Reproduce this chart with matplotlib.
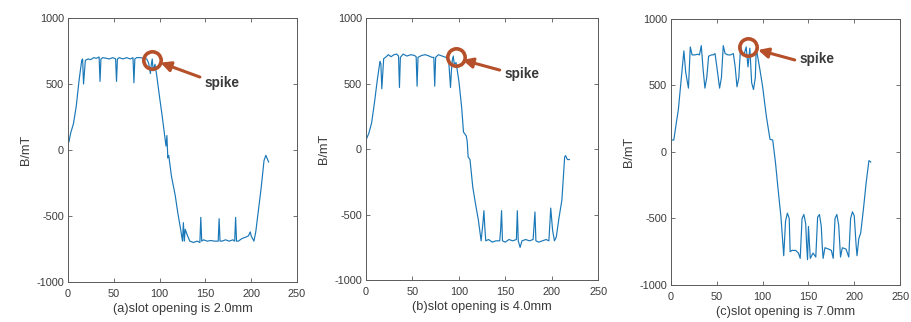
import numpy as np
import matplotlib
matplotlib.use("Agg")
import matplotlib.pyplot as plt

plt.rcParams['font.family'] = ['Liberation Sans', 'DejaVu Sans']
plt.rcParams['axes.unicode_minus'] = False

# --- data ---
a_x = [0, 1, 3, 6, 9, 12, 15, 16, 17, 19, 22, 25, 28, 31, 34, 35, 36, 38, 42, 45, 49, 52, 53, 54, 56,
       60, 64, 68, 71, 72, 73, 75, 79, 83, 86, 88, 89, 90, 91, 92, 93, 95, 97, 100, 103, 105, 107, 108,
       109, 110, 113, 117, 120, 123, 125, 126, 127, 128, 130, 133, 137, 141, 144, 145, 146, 148, 152,
       156, 160, 164, 165, 166, 168, 172, 176, 180, 182, 183, 184, 186, 190, 194, 197, 199, 200, 203,
       205, 208, 211, 214, 216, 219]
a_y = [100, 60, 130, 200, 330, 520, 680, 690, 500, 680, 690, 685, 700, 695, 705, 520, 690, 700, 695,
       690, 700, 690, 520, 690, 700, 690, 700, 690, 700, 510, 690, 700, 700, 695, 690, 660, 620, 580,
       650, 690, 600, 650, 560, 400, 250, 140, 30, 110, -60, -40, -200, -340, -480, -600, -690, -550,
       -690, -600, -640, -690, -700, -690, -700, -510, -690, -680, -690, -685, -690, -690, -520, -690,
       -690, -680, -690, -680, -690, -510, -690, -690, -670, -660, -650, -620, -650, -690, -620, -450,
       -280, -80, -40, -90]

b_x = [0, 3, 6, 9, 12, 15, 16, 17, 19, 21, 24, 27, 30, 33, 35, 36, 37, 40, 44, 48, 52, 54, 55, 56,
       60, 64, 68, 71, 73, 74, 75, 78, 82, 86, 89, 91, 92, 93, 94, 95, 97, 100, 103, 105, 107, 108,
       109, 110, 112, 115, 118, 121, 124, 126, 127, 128, 129, 132, 136, 140, 144, 145, 146, 147, 150,
       154, 158, 162, 163, 164, 166, 168, 172, 176, 180, 182, 183, 186, 190, 194, 197, 199, 201, 203,
       205, 208, 211, 214, 215, 217, 219]
b_y = [70, 120, 200, 350, 520, 670, 650, 460, 690, 700, 720, 705, 720, 725, 710, 470, 700, 725, 710,
       720, 715, 705, 480, 700, 715, 720, 710, 700, 700, 480, 700, 720, 710, 700, 680, 470, 600, 680,
       710, 650, 660, 520, 320, 130, 110, 100, 60, -60, -80, -290, -420, -540, -700, -560, -470, -600,
       -700, -690, -710, -700, -700, -620, -470, -700, -710, -690, -700, -690, -470, -700, -750, -700,
       -690, -700, -690, -480, -700, -710, -700, -690, -700, -450, -620, -700, -670, -520, -390, -60,
       -50, -80, -80]

c_x = [0, 3, 6, 8, 11, 14, 16, 19, 21, 23, 26, 29, 31, 33, 35, 37, 39, 41, 44, 46, 48, 50, 53, 55,
       57, 59, 62, 65, 68, 70, 72, 74, 76, 78, 80, 82, 84, 86, 88, 90, 92, 93, 95, 97, 100, 104, 108,
       111, 114, 117, 120, 123, 125, 127, 129, 130, 132, 136, 139, 141, 143, 145, 147, 148, 149, 150,
       152, 155, 158, 160, 162, 164, 165, 166, 168, 172, 175, 177, 179, 181, 183, 185, 187, 191, 194,
       196, 198, 200, 202, 203, 205, 207, 210, 213, 216, 218]
c_y = [90, 90, 230, 320, 540, 760, 600, 480, 790, 730, 730, 735, 730, 800, 620, 480, 560, 720, 730,
       730, 740, 640, 480, 560, 800, 740, 730, 730, 740, 640, 490, 560, 800, 730, 740, 790, 640, 780,
       520, 470, 560, 780, 700, 620, 490, 270, 95, 90, -80, -290, -490, -780, -520, -460, -500, -750,
       -740, -740, -760, -800, -500, -470, -540, -700, -810, -560, -800, -760, -790, -490, -470, -560,
       -700, -800, -720, -730, -740, -800, -500, -470, -550, -790, -720, -730, -790, -500, -450, -480,
       -700, -780, -650, -610, -430, -230, -65, -75]

labels = ["(a)slot opening is 2.0mm", "(b)slot opening is 4.0mm", "(c)slot opening is 7.0mm"]
series = [(a_x, a_y), (b_x, b_y), (c_x, c_y)]

# spike annotation: circle centre, arrow tail, arrow head, text position (data coords)
spikes = [
    dict(circ=(91.5, 682), tail=(144, 553), head=(101, 662), text=(149, 508)),
    dict(circ=(96.5, 700), tail=(144, 603), head=(104, 680), text=(149, 573)),
    dict(circ=(84, 789), tail=(135, 692), head=(95, 767), text=(140, 699)),
]

positions = [
    [0.0746, 0.124, 0.2514, 0.820],
    [0.4018, 0.130, 0.2547, 0.814],
    [0.7366, 0.115, 0.2514, 0.826],
]

line_color = "#1a78b8"
spike_color = "#b5502a"
axis_color = "#5a5a5a"
text_color = "#3a3a3a"

fig = plt.figure(figsize=(9.11, 3.22), dpi=100)

for (xs, ys), lab, sp, pos in zip(series, labels, spikes, positions):
    ax = fig.add_axes(pos)
    ax.plot(xs, ys, color=line_color, lw=0.85)

    ax.set_xlim(0, 250)
    ax.set_ylim(-1000, 1000)
    ax.set_xticks([0, 50, 100, 150, 200, 250])
    ax.set_yticks([-1000, -500, 0, 500, 1000])
    ax.tick_params(direction='in', top=True, right=True, length=3, width=0.6,
                   colors=axis_color, labelcolor=text_color, labelsize=7.8)
    ax.tick_params(axis='x', pad=5)
    ax.tick_params(axis='y', pad=3)
    for s in ax.spines.values():
        s.set_color(axis_color)
        s.set_linewidth(0.7)

    ax.set_xlabel(lab, fontsize=9.2, color=text_color, labelpad=3)
    ax.set_ylabel("B/mT", fontsize=9.2, color=text_color, labelpad=3)

    # spike marker and arrow
    ax.plot(*sp['circ'], marker='o', ms=12.5, mfc='none', mec=spike_color, mew=2.6, zorder=5)
    ax.annotate('', xy=sp['head'], xytext=sp['tail'],
                arrowprops=dict(arrowstyle='-|>,head_length=0.6,head_width=0.3',
                                color=spike_color, lw=2.2, shrinkA=0, shrinkB=0), zorder=5)
    ax.text(sp['text'][0], sp['text'][1], "spike", fontsize=9.8, fontweight='bold',
            color="#3a3a3a", ha='left', va='center')

fig.savefig("out.png", dpi=100)
